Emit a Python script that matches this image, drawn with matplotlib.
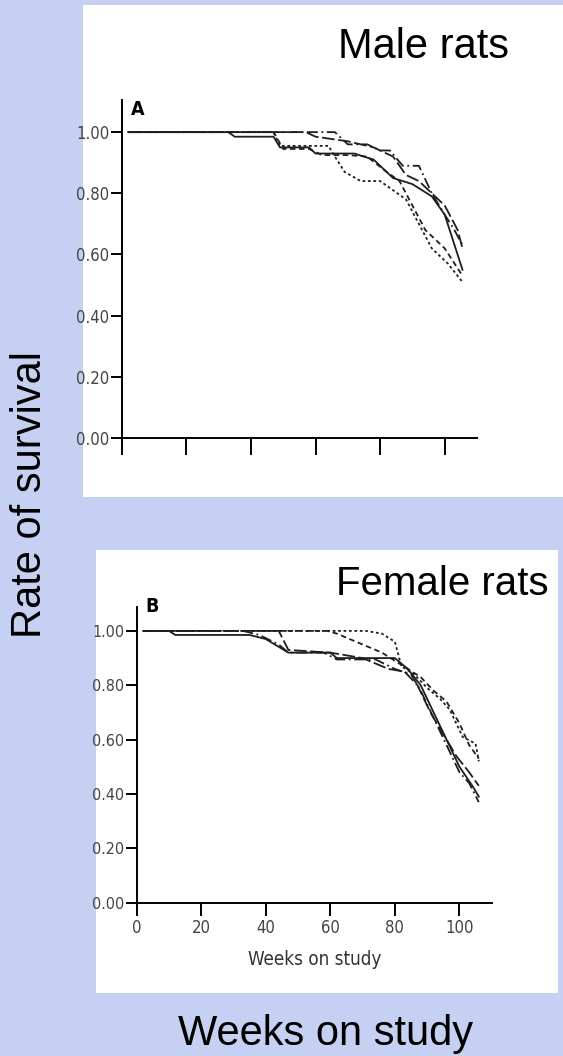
#curve di sopravvivenza dei ratti maschi e femmine (studio a 2 anni)
from matplotlib import pyplot as plt
from matplotlib.patches import Rectangle

#settimane e tassi di sopravvivenza - maschi
maschiSett = [
    [2, 66, 70, 76, 80, 83, 87, 92, 96, 100, 103, 105.5],
    [2, 57, 60, 70, 78, 84, 88, 92, 96, 100, 104, 105.5],
    [2, 33, 35, 47, 49, 58, 60, 72, 78, 84, 90, 96, 100, 105.5],
    [2, 47, 49, 64, 66, 69, 74, 80, 88, 92, 96, 101, 105.5],
    [2, 47, 50, 58, 62, 70, 76, 82, 86, 90, 94, 100, 105.5],
]
maschiSopr = [
    [1.00, 1.00, 0.96, 0.96, 0.94, 0.94, 0.89, 0.89, 0.80, 0.73, 0.68, 0.63],
    [1.00, 1.00, 0.985, 0.97, 0.95, 0.92, 0.86, 0.84, 0.80, 0.76, 0.68, 0.62],
    [1.00, 1.00, 0.985, 0.985, 0.95, 0.95, 0.93, 0.93, 0.91, 0.85, 0.83, 0.79, 0.73, 0.55],
    [1.00, 1.00, 0.955, 0.955, 0.92, 0.87, 0.84, 0.84, 0.78, 0.70, 0.62, 0.57, 0.51],
    [1.00, 1.00, 0.945, 0.945, 0.925, 0.925, 0.92, 0.87, 0.84, 0.76, 0.68, 0.62, 0.53],
]

#femmine
femmineSett = [
    [2, 71, 76, 80, 82, 86, 90, 94, 97, 101, 105, 106],
    [2, 59, 62, 70, 76, 80, 84, 88, 92, 96, 100, 103, 106],
    [2, 10, 12, 35, 40, 47, 60, 62, 80, 84, 88, 92, 96, 100, 104, 106],
    [2, 33, 38, 44, 47, 58, 62, 74, 80, 85, 88, 92, 96, 100, 103, 106],
    [2, 44, 47, 60, 70, 78, 83, 87, 91, 95, 99, 103, 106],
]
femmineSopr = [
    [1.00, 1.00, 0.99, 0.96, 0.87, 0.84, 0.79, 0.75, 0.71, 0.61, 0.585, 0.52],
    [1.00, 1.00, 0.99, 0.95, 0.92, 0.89, 0.86, 0.83, 0.78, 0.74, 0.66, 0.58, 0.53],
    [1.00, 1.00, 0.985, 0.985, 0.97, 0.92, 0.92, 0.90, 0.90, 0.86, 0.80, 0.70, 0.60, 0.50, 0.43, 0.39],
    [1.00, 1.00, 0.985, 0.95, 0.92, 0.92, 0.895, 0.895, 0.86, 0.84, 0.78, 0.68, 0.58, 0.48, 0.44, 0.37],
    [1.00, 1.00, 0.93, 0.92, 0.90, 0.86, 0.85, 0.80, 0.70, 0.62, 0.54, 0.48, 0.43],
]

yTick = [0.0, 0.2, 0.4, 0.6, 0.8, 1.0]
yTickLabel = ['0.00', '0.20', '0.40', '0.60', '0.80', '1.00']
xTick = [0, 20, 40, 60, 80, 100]

stiliMaschi = [(0, (6, 2, 1, 2)), (0, (7, 2)), '-', (0, (1.5, 1.5)), (0, (3, 2))]
stiliFemmine = [(0, (1.5, 1.5)), (0, (3, 2)), '-', (0, (6, 2, 1, 2)), (0, (7, 2))]
fontStretto = ['Liberation Sans Narrow', 'DejaVu Sans']

plt.rcParams['font.family'] = ['Liberation Sans', 'DejaVu Sans']

fig = plt.figure(figsize=(5.63, 10.56), dpi=100)
fig.patch.set_facecolor('#c6d0f2')

#riquadri bianchi (dietro agli assi)
fig.patches.append(Rectangle((0.1474, 0.5294), 0.8526, 0.4659, transform=fig.transFigure,
                             facecolor='white', edgecolor='none', zorder=-5))
fig.patches.append(Rectangle((0.1705, 0.0597), 0.8206, 0.4195, transform=fig.transFigure,
                             facecolor='white', edgecolor='none', zorder=-5))


def disegna(ax, sett, sopr, stili, lettera, ymax, etichetteX, lungTick, dimTick):
    for s, v, st in zip(sett, sopr, stili):
        ax.plot(s, v, color='#1e1e1e', linestyle=st, linewidth=1.3)
    ax.set_xlim(0, 110)
    ax.set_ylim(0, ymax)
    ax.patch.set_alpha(0)
    ax.spines['top'].set_visible(False)
    ax.spines['right'].set_visible(False)
    ax.spines['left'].set_linewidth(1.4)
    ax.spines['bottom'].set_linewidth(1.4)
    ax.set_yticks(yTick)
    ax.set_yticklabels(yTickLabel, family=fontStretto, fontstretch='condensed',
                       fontsize=dimTick, color='#444444')
    ax.set_xticks(xTick)
    if etichetteX:
        ax.set_xticklabels([str(x) for x in xTick], family=fontStretto,
                           fontstretch='condensed', fontsize=12, color='#444444')
        ax.set_xlabel('Weeks on study', family=fontStretto, fontstretch='condensed',
                      fontsize=13.5, color='#333333', labelpad=9)
    else:
        ax.set_xticklabels([])
    ax.tick_params(axis='y', length=8, width=1.4, pad=1)
    ax.tick_params(axis='x', length=lungTick, width=1.4, pad=3)
    ax.text(0.025, 1.0, lettera, transform=ax.transAxes, family=fontStretto,
            fontstretch='condensed', fontsize=14, fontweight='bold', va='top', ha='left')


axA = fig.add_axes([0.2162, 0.5852, 0.6311, 0.3201])
disegna(axA, maschiSett, maschiSopr, stiliMaschi, 'A', 1.105, False, 12, 12)

axB = fig.add_axes([0.2428, 0.1452, 0.6306, 0.2800])
disegna(axB, femmineSett, femmineSopr, stiliFemmine, 'B', 1.088, True, 9, 11.5)
axB.texts[0].set_y(1.035)

#titoli grandi
fig.text(338 / 563, 1 - 58 / 1056, 'Male rats', fontsize=30, ha='left', va='baseline')
fig.text(336 / 563, 1 - 595 / 1056, 'Female rats', fontsize=29, ha='left', va='baseline')
fig.text(178 / 563, 1 - 1045 / 1056, 'Weeks on study', fontsize=30, ha='left', va='baseline')
fig.text(30 / 563, 1 - 495 / 1056, 'Rate of survival', fontsize=30, rotation=90,
         ha='center', va='center')

plt.savefig('out.png', dpi=100, facecolor=fig.get_facecolor())
plt.close()
